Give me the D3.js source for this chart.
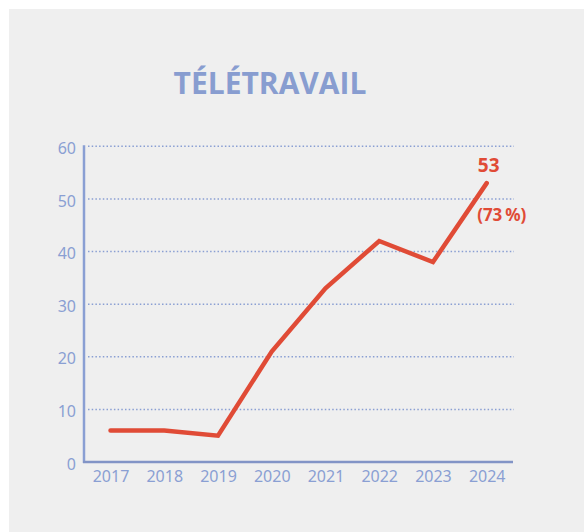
<!DOCTYPE html>
<html>
<head>
<meta charset="utf-8">
<script src="https://cdn.jsdelivr.net/npm/d3@7"></script>
<style>
  body { margin: 0; background: #fff; }
  svg { display: block; }
</style>
</head>
<body>
<div class="teletravail-chart"></div>
<script>
// Télétravail - valeurs
var annees = [2017, 2018, 2019, 2020, 2021, 2022, 2023, 2024];
var valeurs = [6, 6, 5, 21, 33, 42, 38, 53];
var ticksY = [0, 10, 20, 30, 40, 50, 60];
var titre = "TÉLÉTRAVAIL";
var etiquetteValeur = "53";
var etiquettePct = "(73\u202f%)";

var width = 584, height = 532;
var bleu = "#8a9fd3", bleuFonce = "#8294c6", rouge = "#e04b36";

var svg = d3.select(".teletravail-chart")
    .append("svg")
    .attr("width", width)
    .attr("height", height);

// fond gris
svg.append("rect")
    .attr("x", 9)
    .attr("y", 9)
    .attr("width", width - 9)
    .attr("height", height - 9)
    .attr("fill", "#efefef");

svg.append("text")
    .attr("x", 270)
    .attr("y", 94)
    .attr("text-anchor", "middle")
    .style("font-family", "'Open Sans', sans-serif")
    .style("font-weight", 700)
    .style("font-size", "30px")
    .style("fill", "#889dd0")
    .text(titre);

var x = d3.scaleLinear()
    .domain([2017, 2024])
    .range([110.5, 486.7]);

var y = d3.scaleLinear()
    .domain([0, 60])
    .range([462, 146.3]);

// lignes de grille pointillées
svg.append("g")
    .selectAll("line")
    .data(ticksY.filter(function(d) { return d > 0; }))
    .enter().append("line")
    .attr("x1", 88)
    .attr("x2", 514)
    .attr("y1", function(d) { return y(d); })
    .attr("y2", function(d) { return y(d); })
    .attr("stroke", bleu)
    .attr("stroke-width", 1.5)
    .attr("stroke-dasharray", "1.5,2.2");

// axe Y
var yAxis = d3.axisLeft(y)
    .tickValues(ticksY)
    .tickSize(0)
    .tickPadding(8)
    .tickFormat(d3.format("d"));

var gy = svg.append("g")
    .attr("transform", "translate(84,0)")
    .call(yAxis);
gy.select(".domain")
    .attr("d", "M0," + (y(60) - 1) + "V" + (y(0) + 1))
    .attr("stroke", bleu)
    .attr("stroke-width", 2.5);
gy.selectAll("text")
    .attr("dy", "0.45em")
    .style("font-family", "'Noto Sans', sans-serif")
    .style("font-size", "16px")
    .style("fill", bleu);

// axe X
var xAxis = d3.axisBottom(x)
    .tickValues(annees)
    .tickSize(0)
    .tickPadding(8.5)
    .tickFormat(d3.format("d"));

var gx = svg.append("g")
    .attr("transform", "translate(0," + y(0) + ")")
    .call(xAxis);
gx.select(".domain")
    .attr("d", "M83,0H513")
    .attr("stroke", bleuFonce)
    .attr("stroke-width", 2.6);
gx.selectAll("text")
    .style("font-family", "'Noto Sans', sans-serif")
    .style("font-size", "16px")
    .style("fill", bleu);

// courbe
var line = d3.line()
    .x(function(d, i) { return x(annees[i]); })
    .y(function(d) { return y(d); });

svg.append("path")
    .datum(valeurs)
    .attr("d", line)
    .attr("fill", "none")
    .attr("stroke", rouge)
    .attr("stroke-width", 4.5)
    .attr("stroke-linejoin", "miter")
    .attr("stroke-linecap", "round");

// étiquettes de la dernière valeur
var n = valeurs.length - 1;
svg.append("text")
    .attr("x", x(annees[n]) + 2)
    .attr("y", y(valeurs[n]) - 11)
    .attr("text-anchor", "middle")
    .style("font-family", "'Noto Sans', sans-serif")
    .style("font-weight", 700)
    .style("font-size", "19px")
    .style("fill", rouge)
    .text(etiquetteValeur);

svg.append("text")
    .attr("x", x(annees[n]) + 15)
    .attr("y", y(valeurs[n]) + 38)
    .attr("text-anchor", "middle")
    .style("font-family", "'Noto Sans', sans-serif")
    .style("font-weight", 700)
    .style("font-size", "17px")
    .style("fill", rouge)
    .text(etiquettePct);
</script>
</body>
</html>
